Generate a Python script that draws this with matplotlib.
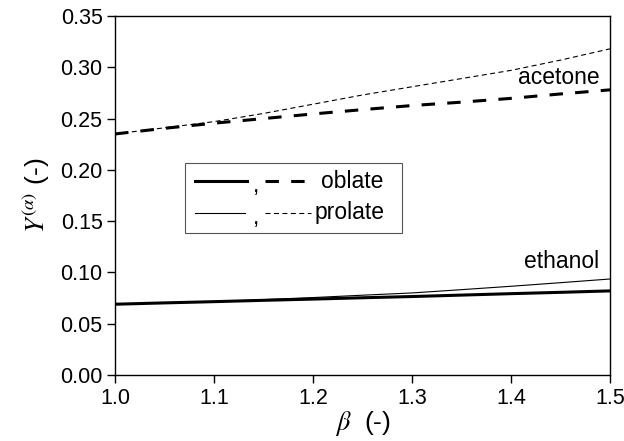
import matplotlib
matplotlib.use("Agg")
import matplotlib.pyplot as plt
from matplotlib.patches import Rectangle

plt.rcParams['font.family'] = ['Liberation Sans', 'DejaVu Sans']
plt.rcParams['mathtext.fontset'] = 'stix'

beta = [1.0, 1.05, 1.1, 1.15, 1.2, 1.25, 1.3, 1.35, 1.4, 1.45, 1.5]
acetone_oblate = [0.235, 0.2405, 0.2455, 0.250, 0.2545, 0.2587, 0.2627, 0.266, 0.2697, 0.274, 0.278]
acetone_prolate = [0.235, 0.241, 0.247, 0.255, 0.264, 0.273, 0.281, 0.289, 0.297, 0.307, 0.318]
ethanol_oblate = [0.069, 0.0703, 0.0715, 0.0728, 0.074, 0.0753, 0.0765, 0.0779, 0.0793, 0.0806, 0.082]
ethanol_prolate = [0.069, 0.0702, 0.0715, 0.0735, 0.0755, 0.0778, 0.080, 0.0832, 0.0865, 0.090, 0.0936]

xticks = [1.0, 1.1, 1.2, 1.3, 1.4, 1.5]
xticklabels = ['1.0', '1.1', '1.2', '1.3', '1.4', '1.5']
yticks = [0.0, 0.05, 0.10, 0.15, 0.20, 0.25, 0.30, 0.35]
yticklabels = ['0.00', '0.05', '0.10', '0.15', '0.20', '0.25', '0.30', '0.35']

L, R, T, B = 115, 610, 16, 375
fig = plt.figure(figsize=(6.24, 4.41), dpi=100)
ax = fig.add_axes([L/624, 1-B/441, (R-L)/624, (B-T)/441])

THICK, THIN = 2.2, 0.8
D_THICK = (4.4, 4.0)
D_THIN = (4.5, 3.1)

ax.plot(beta, ethanol_oblate, color='black', lw=THICK)
ax.plot(beta, ethanol_prolate, color='black', lw=THIN)
ax.plot(beta, acetone_oblate, color='black', lw=THICK, dashes=D_THICK)
ax.plot(beta, acetone_prolate, color='black', lw=THIN, dashes=D_THIN)

ax.set_xlim(1.0, 1.5)
ax.set_ylim(0.0, 0.35)
ax.set_xticks(xticks)
ax.set_yticks(yticks)
ax.set_xticklabels(xticklabels)
ax.set_yticklabels(yticklabels)
ax.tick_params(direction='out', length=6, width=1, labelsize=15.5, top=False, right=False, pad=3)
for s in ax.spines.values():
    s.set_linewidth(1.0)

ax.set_xlabel(r'$\beta$  (-)', fontsize=19, labelpad=0)
ax.set_ylabel(r'$Y^{(\alpha)}$ (-)', fontsize=19, labelpad=6)

def fx(px):
    return (px - L) / (R - L)
def fy(py):
    return (B - py) / (B - T)

ax.text(fx(600), fy(77), 'acetone', transform=ax.transAxes, fontsize=16.5, ha='right', va='center')
ax.text(fx(599), fy(261), 'ethanol', transform=ax.transAxes, fontsize=16.5, ha='right', va='center')

# custom legend
ax.add_patch(Rectangle((fx(185), fy(233)), fx(402) - fx(185), fy(163) - fy(233),
                       transform=ax.transAxes, fill=False, ec='#555555', lw=0.8))
y1, y2 = fy(181), fy(213)
ax.plot([fx(195), fx(247)], [y1, y1], transform=ax.transAxes, color='black', lw=THICK)
ax.plot([fx(265), fx(305)], [y1, y1], transform=ax.transAxes, color='black', lw=THICK, dashes=D_THICK)
ax.plot([fx(195), fx(245)], [y2, y2], transform=ax.transAxes, color='black', lw=THIN)
ax.plot([fx(265), fx(311)], [y2, y2], transform=ax.transAxes, color='black', lw=THIN, dashes=D_THIN)
ax.text(fx(256), y1 - 0.012, ',', transform=ax.transAxes, fontsize=16.5, ha='center', va='center')
ax.text(fx(256), y2 - 0.012, ',', transform=ax.transAxes, fontsize=16.5, ha='center', va='center')
ax.text(fx(321), y1, 'oblate', transform=ax.transAxes, fontsize=16.5, ha='left', va='center')
ax.text(fx(315), y2, 'prolate', transform=ax.transAxes, fontsize=16.5, ha='left', va='center')

fig.savefig('out.png', dpi=100)
